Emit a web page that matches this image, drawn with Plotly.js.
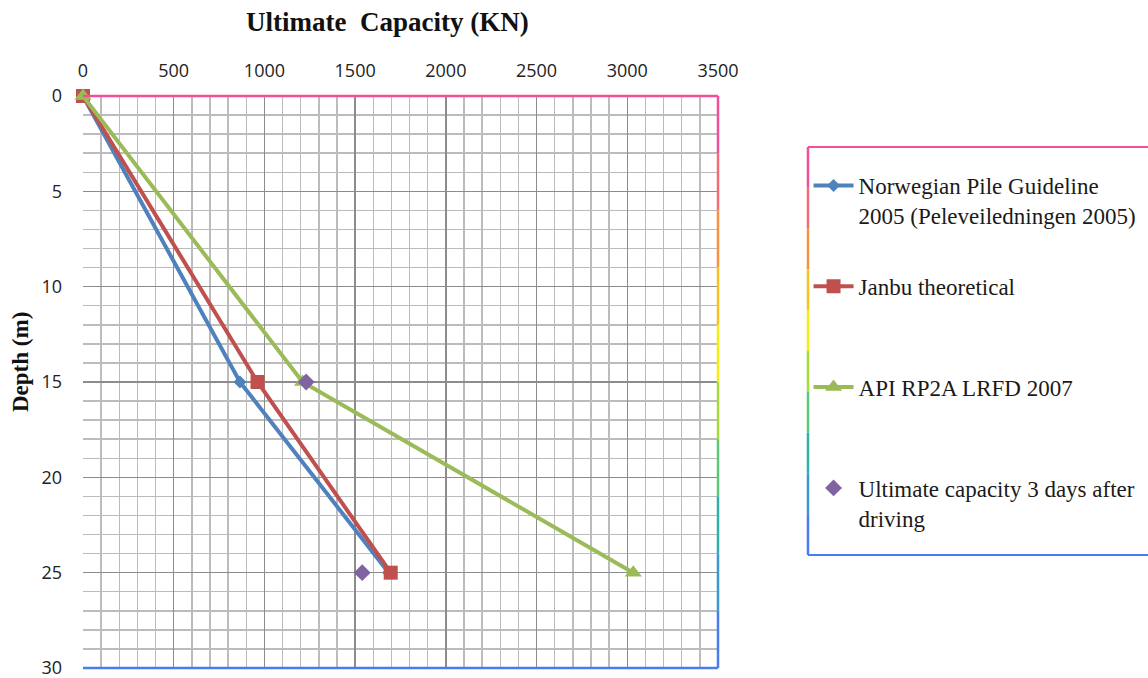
<!DOCTYPE html>
<html>
<head>
<meta charset="utf-8">
<script src="https://cdn.plot.ly/plotly-3.0.1.min.js"></script>
<style>html,body{margin:0;padding:0;background:#fff;}#chart{width:1148px;height:678px;}</style>
</head>
<body>
<div id="chart"></div>
<script>
// Data (depth in m, capacity in KN)
const depthLines = [0, 15, 25];
const norwegian = [0, 865, 1685];
const janbu = [0, 962, 1696];
const api = [0, 1210, 3033];
const measuredDepth = [15, 25];
const measured = [1230, 1539];
const seriesNames = [
  'Norwegian Pile Guideline<br>2005 (Peleveiledningen 2005)',
  'Janbu theoretical<br> ',
  'API RP2A LRFD 2007<br> ',
  'Ultimate capacity 3 days after<br>driving'
];
const xTicks = [0, 500, 1000, 1500, 2000, 2500, 3000, 3500];
const yTicks = [0, 5, 10, 15, 20, 25, 30];

const traces = [
  {x: norwegian, y: depthLines, name: seriesNames[0], mode: 'lines+markers', legendgroup: 'a',
   line: {color: '#4f81bd', width: 4}, marker: {symbol: 'diamond', size: 10, color: '#4f81bd'}, cliponaxis: false},
  {x: janbu, y: depthLines, name: seriesNames[1], mode: 'lines+markers', legendgroup: 'b',
   line: {color: '#c0504d', width: 4}, marker: {symbol: 'square', size: 14, color: '#c0504d'}, cliponaxis: false},
  {x: api, y: depthLines, name: seriesNames[2], mode: 'lines+markers', legendgroup: 'c',
   line: {color: '#9bbb59', width: 4}, marker: {symbol: 'triangle-up', size: 15, color: '#9bbb59'}, cliponaxis: false},
  {x: measured, y: measuredDepth, name: seriesNames[3], mode: 'markers', legendgroup: 'd',
   marker: {symbol: 'diamond', size: 13, color: '#8064a2'}, cliponaxis: false}
];

// gradient border helpers (style only)
const gradColors = ['#f0509a', '#f46a78', '#f7923e', '#f7c21e', '#f2ee10', '#a6dc3a', '#5cc87a', '#2fb0a8', '#3a98d0', '#4a7cf0'];
const shapes = [];
function vGradient(xp, y0, y1) {
  const n = gradColors.length;
  for (let i = 0; i < n; i++) {
    shapes.push({type: 'line', xref: 'paper', yref: 'paper', x0: xp, x1: xp,
      y0: y1 - (y1 - y0) * i / n, y1: y1 - (y1 - y0) * (i + 1) / n,
      line: {color: gradColors[i], width: 2.5}});
  }
}
// plot area border
shapes.push({type: 'line', xref: 'paper', yref: 'paper', x0: 0, x1: 1, y0: 1, y1: 1, line: {color: '#f0509a', width: 2.5}});
shapes.push({type: 'line', xref: 'paper', yref: 'paper', x0: 0, x1: 1, y0: 0, y1: 0, line: {color: '#4a7cf0', width: 2.5}});
vGradient(1, 0, 1);
// legend box border
const lx0 = 1.1417, lx1 = 1.70, ly0 = 0.1976, ly1 = 0.9108;
shapes.push({type: 'line', xref: 'paper', yref: 'paper', x0: lx0, x1: lx1, y0: ly1, y1: ly1, line: {color: '#f0509a', width: 2}});
shapes.push({type: 'line', xref: 'paper', yref: 'paper', x0: lx0, x1: lx1, y0: ly0, y1: ly0, line: {color: '#4a7cf0', width: 2}});
vGradient(lx0, ly0, ly1);

const tickFont = {family: 'Open Sans, Liberation Sans, sans-serif', size: 18, color: '#222'};

const layout = {
  width: 1148, height: 678,
  margin: {l: 83, r: 430, t: 96, b: 10, autoexpand: false},
  paper_bgcolor: '#ffffff', plot_bgcolor: '#ffffff',
  showlegend: true,
  xaxis: {
    side: 'top', range: [0, 3500], tickvals: xTicks, ticktext: xTicks.map(String),
    showgrid: true, gridcolor: '#8c8c8c', gridwidth: 1.5,
    minor: {dtick: 100, showgrid: true, gridcolor: '#bcbcbc', gridwidth: 1.5},
    zeroline: false, showline: false, ticks: '',
    tickfont: tickFont, ticklabelstandoff: 14, ticklabeloverflow: 'allow'
  },
  yaxis: {
    range: [30, 0], tickvals: yTicks, ticktext: yTicks.map(String),
    showgrid: true, gridcolor: '#8c8c8c', gridwidth: 1.5,
    minor: {dtick: 1, showgrid: true, gridcolor: '#bcbcbc', gridwidth: 1.5},
    zeroline: false, showline: false, ticks: '',
    tickfont: tickFont, ticklabelstandoff: 20, ticklabeloverflow: 'allow'
  },
  legend: {
    x: 1.1426, y: 0.881, xanchor: 'left', yanchor: 'top',
    bgcolor: 'rgba(0,0,0,0)', borderwidth: 0,
    font: {family: 'Liberation Serif, Times New Roman, serif', size: 23, color: '#1a1a1a'},
    traceorder: 'grouped', tracegroupgap: 38, valign: 'top', itemwidth: 40
  },
  shapes: shapes,
  annotations: [
    {text: '<b>Ultimate  Capacity (KN)</b>', xref: 'paper', yref: 'paper', x: (387 - 83) / 635, y: (668 - 22) / 572,
     xanchor: 'center', yanchor: 'middle', showarrow: false,
     font: {family: 'Liberation Serif, Times New Roman, serif', size: 27, color: '#111'}},
    {text: '<b>Depth (m)</b>', xref: 'paper', yref: 'paper', x: (20 - 83) / 635, y: (668 - 362) / 572,
     xanchor: 'center', yanchor: 'middle', textangle: -90, showarrow: false,
     font: {family: 'Liberation Serif, Times New Roman, serif', size: 23, color: '#111'}}
  ]
};

Plotly.newPlot('chart', traces, layout, {displayModeBar: false, staticPlot: true});
</script>
</body>
</html>
